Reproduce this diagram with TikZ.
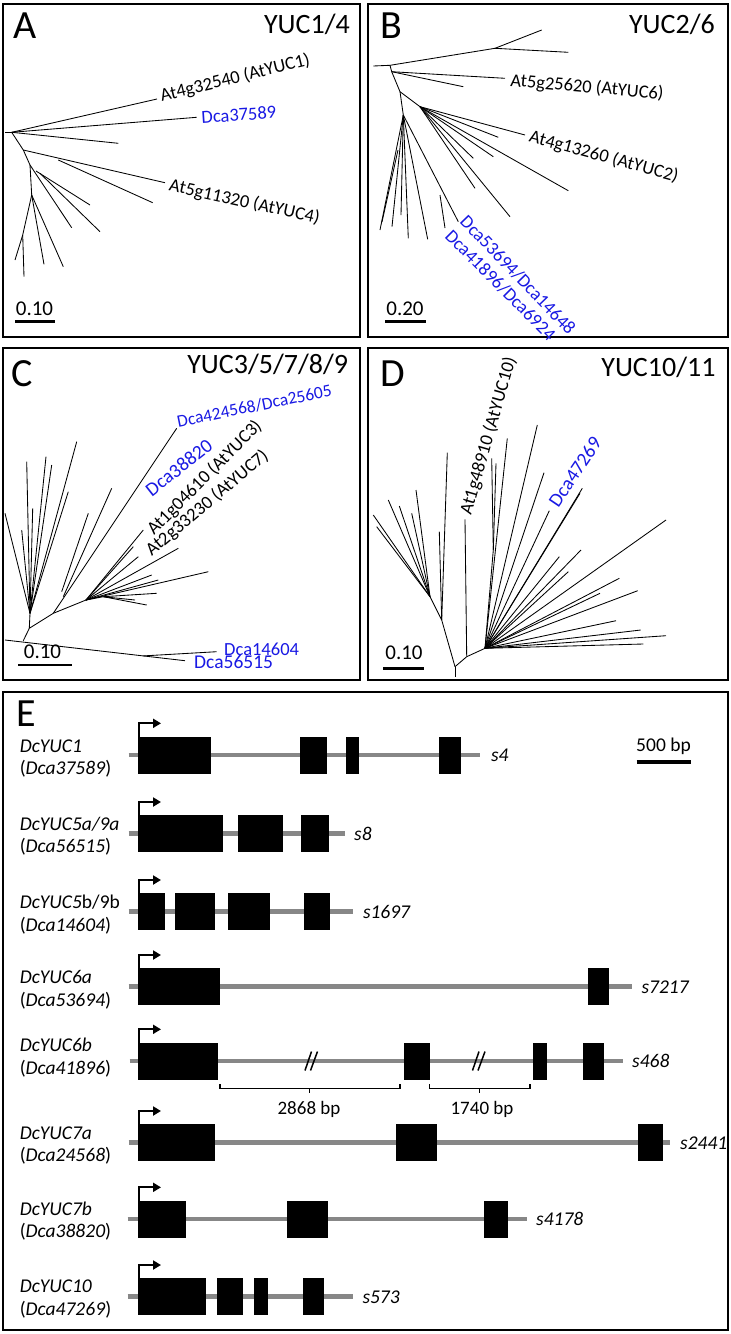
\documentclass[tikz,border=0pt]{standalone}
\usepackage{fontspec}
\setmainfont{Carlito}
\usetikzlibrary{arrows.meta}
\definecolor{lblue}{RGB}{25,25,228}
\definecolor{introng}{RGB}{135,135,135}
\begin{document}
\begin{tikzpicture}[x=1pt,y=-1pt,
  panel/.style={draw=black,line width=2pt},
  tree/.style={line width=0.85pt},
  plet/.style={font=\fontsize{40}{40}\selectfont,inner sep=0,anchor=base west},
  ptitle/.style={font=\fontsize{28}{28}\selectfont,inner sep=0,anchor=base east},
  lab/.style={font=\fontsize{18.5}{18.5}\selectfont,inner sep=0,anchor=base west},
  blab/.style={lab,text=lblue},
  sbar/.style={line width=2.7pt},
  sbtxt/.style={font=\fontsize{21}{21}\selectfont,inner sep=0,anchor=base},
  rlab/.style={font=\fontsize{19.5}{19.5}\selectfont,inner sep=0,anchor=base west},
  slab/.style={font=\fontsize{19.5}{19.5}\selectfont\itshape,inner sep=0,anchor=base west},
  intronline/.style={draw=introng,line width=4.5pt},
  tss/.style={line width=2pt,-{Triangle[length=8pt,width=9pt]}},
  bracket/.style={line width=1.6pt},
  brk/.style={line width=1.5pt}]
\useasboundingbox (0,0) rectangle (731,1334);
\fill[white] (0,0) rectangle (731,1334);
% panel frames
\draw[panel] (3.3,4) rectangle (360,336.7);
\draw[panel] (368.3,4) rectangle (727.7,336.7);
\draw[panel] (3.3,348.3) rectangle (360,680);
\draw[panel] (368.3,348.3) rectangle (727.7,680);
\draw[panel] (3.3,691.7) rectangle (727.7,1330);
% panel letters and titles
\node[plet] (la) at (13.3,38.3) {A};
\node[plet] (lb) at (380,38.3) {B};
\node[plet] (lc) at (11.7,386.7) {C};
\node[plet] (ld) at (380,386.7) {D};
\node[plet] (le) at (16.4,726.7) {E};
\node[ptitle] (ta) at (350,33.3) {YUC1/4};
\node[ptitle] (tb) at (715,33.3) {YUC2/6};
\node[ptitle] (tc) at (348.3,373.3) {YUC3/5/7/8/9};
\node[ptitle] (td) at (715.7,376.7) {YUC10/11};

% ---------------- Tree A
\draw[tree] (5,132.3) -- (11.7,132.3);
\draw[tree] (11.7,132.3) -- (157,99);
\draw[tree] (11.7,132.3) -- (196.7,117.3);
\draw[tree] (11.7,132.3) -- (118.3,143.3);
\draw[tree] (11.7,132.3) -- (23.3,150);
\draw[tree] (23.3,150) -- (165,182.7);
\draw[tree] (58.3,160) -- (152.7,202.7);
\draw[tree] (23.3,150) -- (30,165);
\draw[tree] (30,165) -- (71.7,227.7);
\draw[tree] (36,171) -- (90,205);
\draw[tree] (40,173.3) -- (100,231.7);
\draw[tree] (30,165) -- (31.7,195);
\draw[tree] (31.7,195) -- (63.3,266.7);
\draw[tree] (31.7,195) -- (44,264.3);
\draw[tree] (31.7,195) -- (22.7,235);
\draw[tree] (22.7,235) -- (15,260);
\draw[tree] (22.7,235) -- (24,276.7);
\node[lab,rotate=13.8] (a1) at (161.7,101.7) {At4g32540 (AtYUC1)};
\node[blab,rotate=3.8] (a2) at (201.7,123.3) {Dca37589};
\node[lab,rotate=-12.3] (a3) at (168.3,190.7) {At5g11320 (AtYUC4)};
\draw[sbar] (15,321.7) -- (55,321.7);
\node[sbtxt] (sa) at (34.5,315) {0.10};

% ---------------- Tree B
\draw[tree] (373.3,66) -- (390,65.3);
\draw[tree] (390,65.3) -- (495,48.3);
\draw[tree] (495,48.3) -- (541.7,30);
\draw[tree] (495,48.3) -- (568.3,52.3);
\draw[tree] (390,65.3) -- (391.7,71.7);
\draw[tree] (391.7,71.7) -- (505,78.3);
\draw[tree] (391.7,71.7) -- (463.3,86.7);
\draw[tree] (391.7,71.7) -- (400,91.7);
\draw[tree] (400,91.7) -- (420,106.7);
\draw[tree] (420,106.7) -- (525,135);
\draw[tree] (420,106.7) -- (498.3,137.3);
\draw[tree] (420,106.7) -- (568.3,190.7);
\draw[tree] (420,106.7) -- (493.3,156.7);
\draw[tree] (420,106.7) -- (473.3,158.3);
\draw[tree] (420,106.7) -- (510,216.7);
\draw[tree] (420,106.7) -- (475,188.3);
\draw[tree] (400,91.7) -- (403.3,115);
\draw[tree] (403.3,115) -- (380,230);
\draw[tree] (398,150) -- (382,222);
\draw[tree] (403.3,115) -- (392,226.7);
\draw[tree] (403.3,115) -- (401,215);
\draw[tree] (403.3,115) -- (408.3,238.3);
\draw[tree] (403.3,115) -- (427.7,239.3);
\draw[tree] (403.3,115) -- (458.3,221.7);
\draw[tree] (440,195) -- (445,228);
\node[lab,rotate=-5] (b1) at (510,86) {At5g25620 (AtYUC6)};
\node[lab,rotate=-15.2] (b2) at (528.3,141.7) {At4g13260 (AtYUC2)};
\node[blab,rotate=-46] (b3) at (459,222.7) {Dca53694/Dca14648};
\node[blab,rotate=-45] (b4) at (444,237.3) {Dca41896/Dca6924};
\draw[sbar] (385,321.7) -- (425.7,321.7);
\node[sbtxt] (sb) at (405,315) {0.20};

% ---------------- Tree C
\draw[tree] (5,640) -- (185,660.7);
\draw[tree] (143.3,655.9) -- (216.7,651.7);
\draw[tree] (23.3,640.7) -- (29.3,628.3);
\draw[tree] (29.3,628.3) -- (30,613.3);
\foreach \t in {(76.7,441.7),(26.7,461.7),(46,456.7),(51.7,465),(5,513.3),(21.7,530),(68.3,491.7),(32.7,508.3)}
  \draw[tree] (30,613.3) -- \t;
\draw[tree] (29.3,628.3) -- (53.3,613.3);
\draw[tree] (53.3,613.3) -- (176.7,428.3);
\draw[tree] (63.3,596.7) -- (111.7,488.3);
\draw[tree] (61.7,591.7) -- (88.3,513.3);
\draw[tree] (53.3,613.3) -- (86,600);
\foreach \t in {(143.3,530),(178.3,548.3),(208.3,571.7),(133.3,546.7),(138.3,556.7),(151.7,575),(158.3,580)}
  \draw[tree] (86,600) -- \t;
\draw[tree] (86,600) -- (103.3,596.7);
\foreach \t in {(156.7,593.3),(146.7,605),(135,600)}
  \draw[tree] (103.3,596.7) -- \t;
\node[font=\fontsize{17.5}{17.5}\selectfont,inner sep=0,anchor=base west,text=lblue,rotate=11.5] (c1) at (178.3,427.3) {Dca424568/Dca25605};
\node[blab,font=\fontsize{19.5}{19.5}\selectfont,rotate=38] (c2) at (151.7,497.3) {Dca38820};
\node[lab,rotate=45] (c3) at (154,536) {At1g04610 (AtYUC3)};
\node[lab,rotate=40] (c4) at (151.7,556.7) {At2g33230 (AtYUC7)};
\node[blab] (c5) at (224,655) {Dca14604};
\node[blab,font=\fontsize{19.5}{19.5}\selectfont] (c6) at (194,668.3) {Dca56515};
\draw[sbar] (18.3,665) -- (71.7,665);
\node[sbtxt] (sc) at (42.5,658.3) {0.10};

% ---------------- Tree D
\draw[tree] (455,666.7) -- (455,676.7);
\draw[tree] (455,666.7) -- (441.7,620);
\draw[tree] (441.7,620) -- (430,596.7);
\foreach \t in {(373.3,515),(376.7,526.7),(388.3,500),(399.3,506),(411.7,513.3),(416,490)}
  \draw[tree] (430,596.7) -- \t;
\draw[tree] (441.7,620) -- (447.3,452.7);
\draw[tree] (441.7,620) -- (439.3,531.7);
\draw[tree] (455,666.7) -- (466.7,656.7);
\draw[tree] (466.7,656.7) -- (465,519.3);
\draw[tree] (466.7,656.7) -- (485,648.3);
\draw[tree] (485,648.3) -- (493.3,550);
\draw[tree] (493.3,550) -- (491.7,458.3);
\draw[tree] (493.3,550) -- (496,463.3);
\foreach \t in {(507.3,438.3),(537.3,425),(544,472.7),(549.3,510.7),(582.3,488.3),(580,493.3),(559.3,556.7),(568.3,571.7),(581,550),(666,520),(619.3,578.3),(600,593.3),(637.7,590.7),(616,620.7),(640.7,630),(666,635.7),(643.3,644)}
  \draw[tree] (485,648.3) -- \t;
\node[lab,rotate=74] (d1) at (471,516) {At1g48910 (AtYUC10)};
\node[blab,font=\fontsize{19.5}{19.5}\selectfont,rotate=56] (d2) at (558.3,508.3) {Dca47269};
\draw[sbar] (383.3,668.3) -- (424.3,668.3);
\node[sbtxt] (sd) at (404,659.3) {0.10};

% ---------------- Panel E: gene structures
% scale bar
\node[rlab,anchor=base] (sbe) at (663.5,751.5) {500 bp};
\draw[line width=4pt] (636.7,761.7) -- (691,761.7);

% Row 1  DcYUC1
\def\ry{755}
\draw[intronline] (128.6,\ry) -- (480.1,\ry);
\foreach \a/\b in {138.4/210.8,299.7/327.3,346.4/359.0,438.5/460.5}
  \fill (\a,\ry-18.5) rectangle (\b,\ry+18.5);
\draw[tss] (139.4,\ry-18.5) -- (139.4,\ry-31.7) -- (161,\ry-31.7);
\node[rlab] (g1a) at (19.6,752.7) {\textit{DcYUC1}};
\node[rlab] (g1b) at (19.6,774.3) {(\textit{Dca37589})};
\node[slab] (g1s) at (490.9,761.7) {s4};

% Row 2  DcYUC5a/9a
\def\ry{833.7}
\draw[intronline] (128.6,\ry) -- (345,\ry);
\foreach \a/\b in {138.4/223,237.5/282.8,301/328.7}
  \fill (\a,\ry-18.5) rectangle (\b,\ry+18.5);
\draw[tss] (139.4,\ry-18.5) -- (139.4,\ry-31.7) -- (161,\ry-31.7);
\node[rlab] (g2a) at (19.6,830.7) {\textit{DcYUC5a/9a}};
\node[rlab] (g2b) at (19.6,852.7) {(\textit{Dca56515})};
\node[slab] (g2s) at (354,840.4) {s8};

% Row 3  DcYUC5b/9b
\def\ry{911.7}
\draw[intronline] (128.6,\ry) -- (353,\ry);
\foreach \a/\b in {138.4/165,174.8/214.6,227.7/269.8,304.3/330}
  \fill (\a,\ry-18.5) rectangle (\b,\ry+18.5);
\draw[tss] (139.4,\ry-18.5) -- (139.4,\ry-31.7) -- (161,\ry-31.7);
\node[rlab] (g3a) at (19.6,908.3) {\textit{DcYUC5}b/9b};
\node[rlab] (g3b) at (19.6,931.7) {(\textit{Dca14604})};
\node[slab] (g3s) at (362.8,918.4) {s1697};

% Row 4  DcYUC6a
\def\ry{986.7}
\draw[intronline] (128.6,\ry) -- (632,\ry);
\foreach \a/\b in {138.4/220.2,587.7/609.2}
  \fill (\a,\ry-18.5) rectangle (\b,\ry+18.5);
\draw[tss] (139.4,\ry-18.5) -- (139.4,\ry-31.7) -- (161,\ry-31.7);
\node[rlab] (g4a) at (19.6,983.3) {\textit{DcYUC6a}};
\node[rlab] (g4b) at (19.6,1006) {(\textit{Dca53694})};
\node[slab] (g4s) at (641.4,993.4) {s7217};

% Row 5  DcYUC6b
\def\ry{1061}
\draw[intronline] (129.5,\ry) -- (622.7,\ry);
\foreach \a/\b in {138.4/217.9,403.5/429.6,533.4/546.5,583/603.6}
  \fill (\a,\ry-18.5) rectangle (\b,\ry+18.5);
\draw[tss] (139.4,\ry-18.5) -- (139.4,\ry-31.7) -- (161,\ry-31.7);
\foreach \sx in {313,480.5}{
  \draw[brk] (\sx-8,\ry+9.5) -- (\sx-1.5,\ry-9.5);
  \draw[brk] (\sx-2.5,\ry+9.5) -- (\sx+4.5,\ry-9.5);
}
\draw[bracket] (220,1084.3) -- (220,1088.3) -- (400,1088.3) -- (400,1084.3);
\draw[bracket] (309.3,1088.3) -- (309.3,1092.5);
\draw[bracket] (429.3,1084.3) -- (429.3,1088.3) -- (530,1088.3) -- (530,1084.3);
\draw[bracket] (479.3,1088.3) -- (479.3,1092.5);
\node[rlab,font=\fontsize{19}{19}\selectfont,anchor=base] (br1) at (309,1114.5) {2868 bp};
\node[rlab,font=\fontsize{19}{19}\selectfont,anchor=base] (br2) at (482,1114.5) {1740 bp};
\node[rlab] (g5a) at (19.6,1051.7) {\textit{DcYUC6b}};
\node[rlab] (g5b) at (19.6,1074) {(\textit{Dca41896})};
\node[slab] (g5s) at (632,1067.7) {s468};

% Row 6  DcYUC7a
\def\ry{1142.7}
\draw[intronline] (128.6,\ry) -- (669.5,\ry);
\foreach \a/\b in {138.4/215,396.4/436.6,638/662.5}
  \fill (\a,\ry-18.5) rectangle (\b,\ry+18.5);
\draw[tss] (139.4,\ry-18.5) -- (139.4,\ry-31.7) -- (161,\ry-31.7);
\node[rlab] (g6a) at (19.6,1139.3) {\textit{DcYUC7a}};
\node[rlab] (g6b) at (19.6,1161.7) {(\textit{Dca24568})};
\node[slab] (g6s) at (680,1149.4) {s2441};

% Row 7  DcYUC7b
\def\ry{1219}
\draw[intronline] (127.6,\ry) -- (527,\ry);
\foreach \a/\b in {138.4/185.6,287/327.7,483.9/508.2}
  \fill (\a,\ry-18.5) rectangle (\b,\ry+18.5);
\draw[tss] (139.4,\ry-18.5) -- (139.4,\ry-31.7) -- (161,\ry-31.7);
\node[rlab] (g7a) at (19.6,1215) {\textit{DcYUC7b}};
\node[rlab] (g7b) at (19.6,1237.3) {(\textit{Dca38820})};
\node[slab] (g7s) at (536,1225.7) {s4178};

% Row 8  DcYUC10
\def\ry{1296.7}
\draw[intronline] (127.6,\ry) -- (353,\ry);
\foreach \a/\b in {138.4/205.7,216.9/242.6,253.9/267.9,303.4/324}
  \fill (\a,\ry-18.5) rectangle (\b,\ry+18.5);
\draw[tss] (139.4,\ry-18.5) -- (139.4,\ry-31.7) -- (161,\ry-31.7);
\node[rlab] (g8a) at (19.6,1292.7) {\textit{DcYUC10}};
\node[rlab] (g8b) at (19.6,1315) {(\textit{Dca47269})};
\node[slab] (g8s) at (362.3,1303.4) {s573};
\end{tikzpicture}
\end{document}
